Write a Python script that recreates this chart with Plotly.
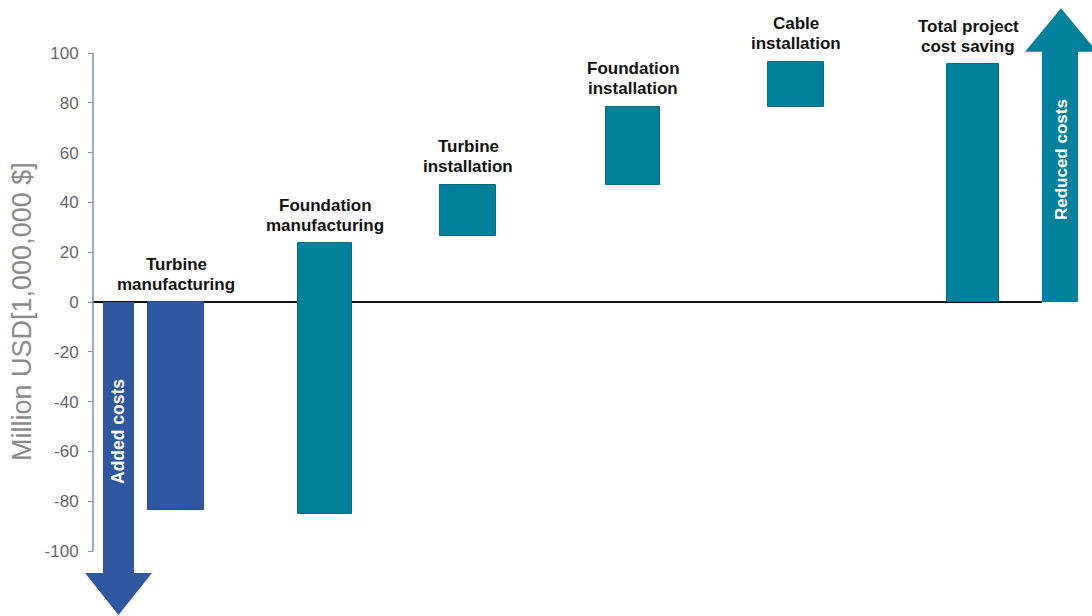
import plotly.graph_objects as go

# Cost components (million USD): each floating bar runs from bottom to top
categories = [
    "Turbine<br>manufacturing",
    "Foundation<br>manufacturing",
    "Turbine<br>installation",
    "Foundation<br>installation",
    "Cable<br>installation",
    "Total project<br>cost saving",
]
bottoms = [0, -85, 26.5, 47, 78.5, 0]
tops = [-83.5, 23.5, 47, 78.5, 96.5, 95.5]

y_ticks = [-100, -80, -60, -40, -20, 0, 20, 40, 60, 80, 100]

# Layout: horizontal placement of bars (x axis spans the figure width in px units)
x_pos = [176, 325, 468, 633, 796, 973]
bar_width = [56, 54, 56, 54, 56, 52]
label_xshift = [0, 0, 0, 0, 0, -5]

TEAL = "#00809B"
TEAL_EDGE = "#0A6A80"
BLUE = "#2F58A0"
BLUE_EDGE = "#274A8A"
bar_colors = [BLUE] + [TEAL] * 5
edge_colors = [BLUE_EDGE] + [TEAL_EDGE] * 5

FONT = "Liberation Sans, Arial, sans-serif"
W, H = 1092, 616
AXIS_X = 93          # pixel where the value axis sits
ZERO_END = 1042      # zero line stops at the "reduced costs" arrow

fig = go.Figure()
fig.add_trace(go.Bar(
    x=x_pos,
    base=bottoms,
    y=[t - b for t, b in zip(tops, bottoms)],
    width=bar_width,
    marker=dict(color=bar_colors, line=dict(color=edge_colors, width=1)),
    hoverinfo="skip",
))

# Category labels above each bar, one annotation per line for tight spacing
for xp, label, b, t, dx in zip(x_pos, categories, bottoms, tops, label_xshift):
    lines = label.split("<br>")
    for i, line in enumerate(reversed(lines)):
        fig.add_annotation(
            x=xp, y=max(b, t), text=f"<b>{line}</b>",
            showarrow=False, yanchor="middle", yshift=18 + 20 * i, xshift=dx,
            font=dict(family=FONT, size=17, color="#111111"),
        )

# Direction arrows: (shaft x0, shaft x1, head x0, head x1, shaft end, tip)
down_arrow = (103, 134, 85, 152, -108.8, -125.7)
up_arrow = (1042, 1078, 1025, 1097, 100.5, 118.0)


def arrow_path(a):
    sx0, sx1, hx0, hx1, yend, ytip = a
    xm = (hx0 + hx1) / 2
    return (f"M {sx0},0 L {sx1},0 L {sx1},{yend} L {hx1},{yend} "
            f"L {xm},{ytip} L {hx0},{yend} L {sx0},{yend} Z")


fig.add_shape(type="path", path=arrow_path(down_arrow), xref="x", yref="y",
              fillcolor=BLUE, line=dict(width=0), layer="above")
fig.add_shape(type="path", path=arrow_path(up_arrow), xref="x", yref="y",
              fillcolor=TEAL, line=dict(width=0), layer="above")

fig.add_annotation(x=118.5, y=-52, text="<b>Added costs</b>", textangle=-90,
                   showarrow=False, font=dict(family=FONT, size=17.5, color="white"))
fig.add_annotation(x=1061, y=57, text="<b>Reduced costs</b>", textangle=-90,
                   showarrow=False, font=dict(family=FONT, size=17, color="white"))

# Zero line and value axis line
fig.add_shape(type="line", x0=AXIS_X, x1=ZERO_END, y0=0, y1=0,
              xref="x", yref="y", line=dict(color="#111111", width=2), layer="below")
fig.add_shape(type="line", x0=AXIS_X, x1=AXIS_X, y0=-100, y1=100,
              xref="x", yref="y", line=dict(color="#7D8FB8", width=1.5), layer="below")

# Axis title
fig.add_annotation(x=22, y=-4, text="Million USD[1,000,000 $]", textangle=-90,
                   showarrow=False, xref="x", yref="y",
                   font=dict(family=FONT, size=27, color="#8A8A8A"))

px_per_unit = (551 - 53) / 200
y_top = 302 / px_per_unit
y_bottom = -(H - 302) / px_per_unit

fig.update_layout(
    width=W, height=H,
    margin=dict(l=0, r=0, t=0, b=0),
    paper_bgcolor="white", plot_bgcolor="white",
    showlegend=False,
    bargap=0,
    xaxis=dict(range=[0, W], visible=False, fixedrange=True),
    yaxis=dict(
        range=[y_bottom, y_top],
        anchor="free", position=AXIS_X / W,
        tickvals=y_ticks, ticktext=[str(v) for v in y_ticks],
        ticks="outside", ticklen=5, tickcolor="#7D8FB8",
        ticklabelstandoff=6,
        showline=False, showgrid=False, zeroline=False,
        tickfont=dict(family=FONT, size=17, color="#666666"),
    ),
)

fig.write_html("out.html")
